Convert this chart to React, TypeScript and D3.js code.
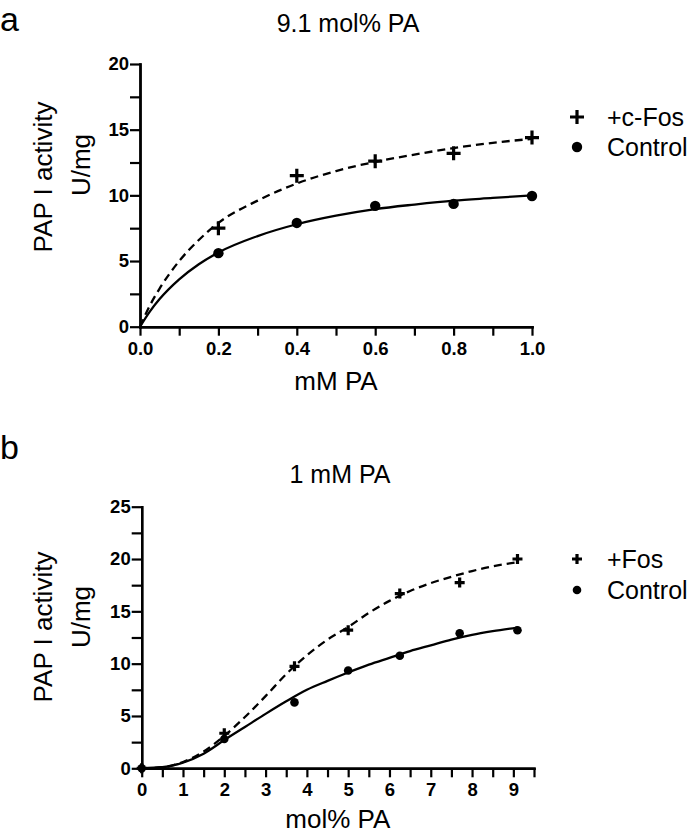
import React, { useRef, useEffect } from 'react';
import * as d3 from 'd3';

const FONT = "'Liberation Sans', Arial, Helvetica, sans-serif";

// panel a - 9.1 mol% PA, varying bulk PA (mM)
const concA = [0.2, 0.4, 0.6, 0.8, 1.0];
const fosA = [7.5, 11.5, 12.6, 13.2, 14.4];
const controlA = [5.6, 7.9, 9.2, 9.35, 9.95];
// fitted curves
const fitXA = [0, 0.025, 0.05, 0.1, 0.15, 0.2, 0.3, 0.4, 0.5, 0.6, 0.7, 0.8, 0.9, 1.0];
const fosFitA = [0, 1.6, 2.9, 5.0, 6.6, 7.9, 9.6, 10.9, 11.85, 12.55, 13.1, 13.6, 14.0, 14.3];
const controlFitA = [0, 1.15, 2.1, 3.6, 4.75, 5.65, 6.9, 7.8, 8.45, 8.95, 9.3, 9.6, 9.8, 10.0];
const xTicksA = [0, 0.2, 0.4, 0.6, 0.8, 1.0];
const xMinorA = [0.1, 0.3, 0.5, 0.7, 0.9];
const yTicksA = [0, 5, 10, 15, 20];
const yMinorA = [2.5, 7.5, 12.5, 17.5];

// panel b - 1 mM PA, varying mol% PA
const molB = [0, 2, 3.7, 5, 6.25, 7.7, 9.1];
const fosB = [0, 3.35, 9.75, 13.2, 16.7, 17.75, 20.0];
const controlB = [0, 2.8, 6.3, 9.35, 10.75, 12.9, 13.2];
const fitXB = [0, 0.5, 1, 1.5, 2, 2.5, 3, 3.5, 4, 4.5, 5, 5.5, 6, 6.5, 7, 7.5, 8, 8.5, 9.1];
const fosFitB = [0, 0.1, 0.6, 1.6, 3.1, 4.9, 6.9, 9.0, 10.8, 12.3, 13.5, 14.85, 16.0, 16.95, 17.7, 18.3, 18.85, 19.3, 19.7];
const controlFitB = [0, 0.1, 0.55, 1.4, 2.7, 3.95, 5.2, 6.4, 7.5, 8.35, 9.15, 9.9, 10.55, 11.2, 11.75, 12.3, 12.75, 13.1, 13.45];
const xTicksB = [0, 1, 2, 3, 4, 5, 6, 7, 8, 9];
const xMinorB = [0.5, 1.5, 2.5, 3.5, 4.5, 5.5, 6.5, 7.5, 8.5, 9.5];
const yTicksB = [0, 5, 10, 15, 20, 25];
const yMinorB = [2.5, 7.5, 12.5, 17.5, 22.5];

const plusPath = (s) => `M${-s},0H${s}M0,${-s}V${s}`;

function drawPanel(svg, p) {
  const x = d3.scaleLinear().domain(p.xDomain).range(p.xRange);
  const y = d3.scaleLinear().domain(p.yDomain).range(p.yRange);
  const g = svg.append('g');

  // axes (major + minor ticks)
  const styleAxis = (sel) => {
    sel.select('.domain').attr('stroke-width', 2.4).attr('stroke-linecap', 'square');
    sel.selectAll('.tick line').attr('stroke-width', 2.2);
    sel.selectAll('text')
      .attr('font-family', FONT)
      .attr('font-size', 18.5)
      .attr('font-weight', 'bold')
      .attr('fill', '#000');
  };
  const y0 = p.yRange[0];
  const x0 = p.xRange[0];
  g.append('g').attr('transform', `translate(0,${y0})`)
    .call(d3.axisBottom(x).tickValues(p.xMinor).tickSize(9).tickSizeOuter(0).tickFormat(() => ''))
    .call(styleAxis);
  g.append('g').attr('transform', `translate(0,${y0})`)
    .call(d3.axisBottom(x).tickValues(p.xTicks).tickSize(9).tickPadding(6).tickSizeOuter(0).tickFormat(p.xFormat))
    .call(styleAxis);
  g.append('g').attr('transform', `translate(${x0},0)`)
    .call(d3.axisLeft(y).tickValues(p.yMinor).tickSize(10).tickSizeOuter(0).tickFormat(() => ''))
    .call(styleAxis);
  g.append('g').attr('transform', `translate(${x0},0)`)
    .call(d3.axisLeft(y).tickValues(p.yTicks).tickSize(10).tickPadding(1).tickSizeOuter(0).tickFormat(d3.format('d')))
    .call(styleAxis);

  // fitted curves
  const line = d3.line().x(d => x(d[0])).y(d => y(d[1])).curve(d3.curveMonotoneX);
  g.append('path').datum(d3.zip(p.fitX, p.controlFit)).attr('d', line)
    .attr('fill', 'none').attr('stroke', '#000').attr('stroke-width', 2.3);
  g.append('path').datum(d3.zip(p.fitX, p.fosFit)).attr('d', line)
    .attr('fill', 'none').attr('stroke', '#000').attr('stroke-width', 2.3)
    .attr('stroke-dasharray', '8,5');

  // data points
  g.selectAll('.ctl').data(d3.zip(p.xs, p.control)).join('circle')
    .attr('cx', d => x(d[0])).attr('cy', d => y(d[1])).attr('r', p.dotR).attr('fill', '#000');
  g.selectAll('.fos').data(d3.zip(p.xs, p.fos)).join('path')
    .attr('transform', d => `translate(${x(d[0])},${y(d[1])})`)
    .attr('d', plusPath(p.plusS)).attr('stroke', '#000').attr('stroke-width', 3.2).attr('fill', 'none');

  // legend
  const lg = g.append('g').attr('transform', `translate(${p.legend[0]},${p.legend[1]})`);
  lg.append('path').attr('d', plusPath(p.plusS)).attr('stroke', '#000').attr('stroke-width', 3.2);
  lg.append('circle').attr('cy', p.legendGap).attr('r', p.dotR).attr('fill', '#000');
  lg.selectAll('text').data([p.fosLabel, 'Control']).join('text')
    .attr('x', 30).attr('y', (d, i) => i * p.legendGap + 9)
    .attr('font-family', FONT).attr('font-size', 25).text(d => d);

  // titles and labels
  g.append('text').attr('x', p.titleX).attr('y', p.titleY).attr('text-anchor', 'middle')
    .attr('font-family', FONT).attr('font-size', 25).text(p.title);
  g.append('text').attr('x', (p.xRange[0] + p.xRange[1]) / 2).attr('y', p.xLabelY).attr('text-anchor', 'middle')
    .attr('font-family', FONT).attr('font-size', 26).text(p.xLabel);
  g.append('text').attr('transform', `translate(52,${p.yLabelC[0]}) rotate(-90)`).attr('text-anchor', 'middle')
    .attr('font-family', FONT).attr('font-size', 26).text('PAP I activity');
  g.append('text').attr('transform', `translate(90,${p.yLabelC[1]}) rotate(-90)`).attr('text-anchor', 'middle')
    .attr('font-family', FONT).attr('font-size', 26).text('U/mg');
  g.append('text').attr('x', 0).attr('y', p.letterY)
    .attr('font-family', FONT).attr('font-size', 34).text(p.letter);
}

const App = () => {
  const svgRef = useRef(null);
  useEffect(() => {
    const svg = d3.select(svgRef.current);
    svg.selectAll('*').remove();
    drawPanel(svg, {
      letter: 'a', letterY: 31, title: '9.1 mol% PA', titleX: 348, titleY: 32,
      xLabel: 'mM PA', xLabelY: 390, yLabelC: [177, 165],
      xDomain: [0, 1], xRange: [140, 532], yDomain: [0, 20], yRange: [326.7, 64],
      xTicks: xTicksA, xMinor: xMinorA, yTicks: yTicksA, yMinor: yMinorA,
      xFormat: d3.format('.1f'),
      xs: concA, fos: fosA, control: controlA,
      fitX: fitXA, fosFit: fosFitA, controlFit: controlFitA,
      dotR: 5.2, plusS: 7, legend: [577, 117], legendGap: 30, fosLabel: '+c-Fos',
    });
    drawPanel(svg, {
      letter: 'b', letterY: 459, title: '1 mM PA', titleX: 340, titleY: 483,
      xLabel: 'mol% PA', xLabelY: 828, yLabelC: [627, 617],
      xDomain: [0, 9.5], xRange: [141.7, 534], yDomain: [0, 25], yRange: [768.3, 506.7],
      xTicks: xTicksB, xMinor: xMinorB, yTicks: yTicksB, yMinor: yMinorB,
      xFormat: d3.format('d'),
      xs: molB, fos: fosB, control: controlB,
      fitX: fitXB, fosFit: fosFitB, controlFit: controlFitB,
      dotR: 4.3, plusS: 5, legend: [577, 559], legendGap: 31, fosLabel: '+Fos',
    });
  }, []);
  return (
    <svg ref={svgRef} width={693} height={833}
      style={{ position: 'absolute', left: 0, top: 0, background: '#fff' }} />
  );
};

export default App;
